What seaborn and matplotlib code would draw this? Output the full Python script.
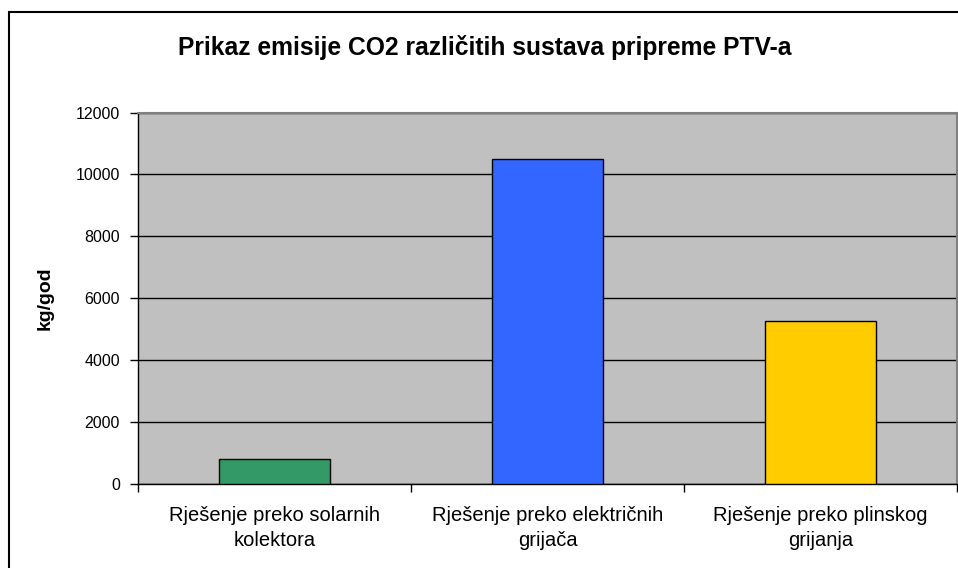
import matplotlib
matplotlib.use("Agg")
import matplotlib.pyplot as plt
import seaborn as sns
import pandas as pd
from matplotlib.patches import Rectangle

# data
sustavi = ["Rješenje preko solarnih\nkolektora",
           "Rješenje preko električnih\ngrijača",
           "Rješenje preko plinskog\ngrijanja"]
emisija = [800, 10500, 5250]
boje = ["#339966", "#3366FF", "#FFCC00"]
y_ticks = [0, 2000, 4000, 6000, 8000, 10000, 12000]

sns.set_style("white")
plt.rcParams['font.family'] = ['Liberation Sans', 'DejaVu Sans']
plt.rcParams['text.color'] = 'black'
plt.rcParams['xtick.color'] = 'black'
plt.rcParams['ytick.color'] = 'black'
plt.rcParams['axes.labelcolor'] = 'black'

df = pd.DataFrame({"sustav": sustavi, "emisija": emisija})

fig = plt.figure(figsize=(9.58, 5.68), dpi=100)
ax = fig.add_axes([138/958, 1-484/568, (957-138)/958, (484-112.5)/568])
ax.set_facecolor("#C0C0C0")

sns.barplot(data=df, x="sustav", y="emisija", hue="sustav", palette=boje,
            legend=False, width=0.405, edgecolor="black", linewidth=1,
            saturation=1, ax=ax, zorder=3)

ax.set_ylim(0, 12000)
ax.set_xlim(-0.5, 2.5)
ax.set_yticks(y_ticks)
ax.yaxis.grid(True, color="black", linewidth=1, zorder=0)
ax.set_axisbelow(True)
ax.tick_params(axis="y", left=True, length=6, width=1,
               labelsize=11.5, pad=7)
ax.set_xticks([0, 1, 2])
ax.set_xticklabels(sustavi, fontsize=14.5, linespacing=1.4)
ax.tick_params(axis="x", bottom=False, pad=12)
ax.set_xticks([-0.5, 0.5, 1.5, 2.5], minor=True)
ax.tick_params(axis="x", which="minor", bottom=True, length=6, width=1)

for s in ["left", "bottom"]:
    ax.spines[s].set_color("black")
    ax.spines[s].set_linewidth(1)
for s in ["top", "right"]:
    ax.spines[s].set_color("#808080")
    ax.spines[s].set_linewidth(1.5)

ax.set_xlabel("")
ax.set_ylabel("kg/god", fontsize=14, fontweight="bold", labelpad=16)

fig.text(485/958, 1-47/568, "Prikaz emisije CO2 različitih sustava pripreme PTV-a",
         ha="center", va="center", fontsize=17.7, fontweight="bold")

# outer chart border
fig.patches.append(Rectangle((9/958, -0.05), 1.2, 1-12/568+0.05,
                             transform=fig.transFigure, fill=False,
                             edgecolor="black", linewidth=1.5))

fig.savefig("out.png", dpi=100)
